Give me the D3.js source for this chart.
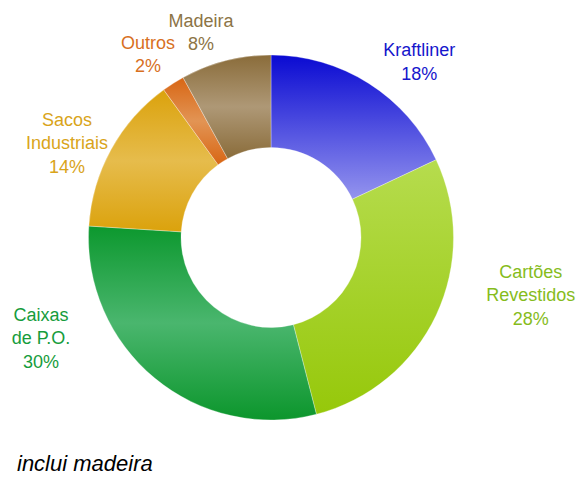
<!DOCTYPE html>
<html><head><meta charset="utf-8">
<script src="https://cdn.jsdelivr.net/npm/d3@7/dist/d3.min.js"></script>
<style>
html,body{margin:0;padding:0;background:#fff;}
svg{display:block;font-family:"Liberation Sans",Arial,sans-serif;}
</style></head>
<body><svg id="chart" width="581" height="477"></svg>
<script>
// ---- data ----
const categories = ["Kraftliner", "Cartões\nRevestidos", "Caixas\nde P.O.", "Sacos\nIndustriais", "Outros", "Madeira"];
const values = [18, 28, 30, 14, 2, 8];
const note = "inclui madeira";

// ---- styles ----
const textColors = ["#1616cc", "#86bc1c", "#169c3c", "#d9a41a", "#d8701e", "#8c7446"];
const gradStops = [
  [["0", "#0a0ad2"], ["1", "#9494ee"]],
  [["0", "#b6dc4e"], ["1", "#96c80a"]],
  [["0", "#0c982e"], ["0.5", "#4ab66e"], ["1", "#0c962c"]],
  [["0", "#dba20c"], ["0.5", "#e6bc4c"], ["1", "#dba20c"]],
  [["0", "#d86614"], ["0.5", "#e29454"], ["1", "#d86614"]],
  [["0", "#8a6c3a"], ["0.5", "#ae9876"], ["1", "#8a6c3a"]]
];
// label placement (polar: angle in degrees clockwise from top, radius)
const labelPolar = [[40.1, 230], [102.5, 266], [246.4, 251], [294.9, 225], [326.2, 221], [341.2, 217]];

const svg = d3.select("#chart");
const cx = 271, cy = 237.5, R = 182.5, r0 = 90;
const fontSize = 18, lineH = 23.5, capH = 12.8;

const defs = svg.append("defs");
gradStops.forEach((stops, i) => {
  const g = defs.append("linearGradient").attr("id", "g" + i)
    .attr("x1", 0).attr("y1", 0).attr("x2", 0).attr("y2", 1);
  stops.forEach(s => g.append("stop").attr("offset", s[0]).attr("stop-color", s[1]));
});

const pie = d3.pie().sort(null).value(d => d);
const arc = d3.arc().innerRadius(r0).outerRadius(R);
const arcs = pie(values);

const g = svg.append("g").attr("transform", `translate(${cx},${cy})`);
g.selectAll("path").data(arcs).enter().append("path")
  .attr("d", arc)
  .attr("fill", (d, i) => `url(#g${i})`)
  .attr("stroke", "#ffffff").attr("stroke-opacity", 0.5).attr("stroke-width", 0.6);

// labels
arcs.forEach((d, i) => {
  const [angDeg, rad] = labelPolar[i];
  const a = angDeg * Math.PI / 180;
  const x = cx + rad * Math.sin(a);
  const yc = cy - rad * Math.cos(a);
  const lines = categories[i].split("\n").concat([values[i] + "%"]);
  const n = lines.length;
  const b1 = yc - ((n - 1) * lineH - capH) / 2;
  const t = svg.append("text").attr("text-anchor", "middle")
    .attr("font-size", fontSize).attr("fill", textColors[i]);
  lines.forEach((ln, k) => {
    t.append("tspan").attr("x", x).attr("y", b1 + k * lineH).text(ln);
  });
});

svg.append("text").attr("x", 17).attr("y", 471)
  .attr("font-size", 22).attr("font-style", "italic").attr("fill", "#000")
  .text(note);
</script>
</body></html>
